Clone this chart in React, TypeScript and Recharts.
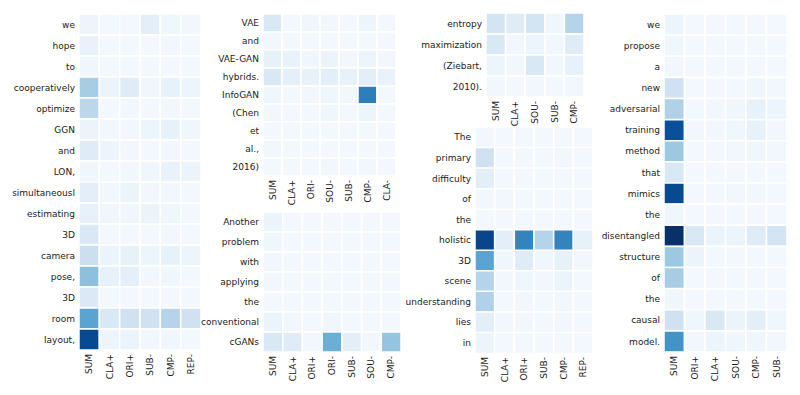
import React from "react";
import { BarChart, Bar, XAxis, YAxis, Cell } from "recharts";

// Panel 1
const words1 = ["we", "hope", "to", "cooperatively", "optimize", "GGN", "and", "LON,", "simultaneousl", "estimating", "3D", "camera", "pose,", "3D", "room", "layout,"];
const cols1 = ["SUM", "CLA+", "ORI+", "SUB-", "CMP-", "REP-"];
const vals1 = [
  [0.05, 0.02, 0.02, 0.1, 0.04, 0.03],
  [0.07, 0.02, 0.02, 0.02, 0.03, 0.02],
  [0.04, 0.02, 0.02, 0.02, 0.02, 0.02],
  [0.35, 0.06, 0.12, 0.04, 0.08, 0.05],
  [0.28, 0.02, 0.03, 0.02, 0.03, 0.02],
  [0.06, 0.03, 0.03, 0.05, 0.08, 0.04],
  [0.12, 0.05, 0.03, 0.02, 0.03, 0.02],
  [0.04, 0.02, 0.03, 0.04, 0.07, 0.06],
  [0.1, 0.03, 0.06, 0.03, 0.03, 0.02],
  [0.08, 0.04, 0.04, 0.06, 0.04, 0.02],
  [0.15, 0.02, 0.02, 0.02, 0.03, 0.02],
  [0.22, 0.06, 0.08, 0.05, 0.08, 0.05],
  [0.42, 0.08, 0.09, 0.03, 0.04, 0.02],
  [0.14, 0.02, 0.02, 0.02, 0.02, 0.02],
  [0.55, 0.15, 0.2, 0.2, 0.3, 0.2],
  [0.9, 0.05, 0.06, 0.03, 0.04, 0.02],
];

// Panel 2, top
const words2a = ["VAE", "and", "VAE-GAN", "hybrids.", "InfoGAN", "(Chen", "et", "al.,", "2016)"];
const cols2a = ["SUM", "CLA+", "ORI-", "SOU-", "SUB-", "CMP-", "CLA-"];
const vals2a = [
  [0.15, 0.02, 0.04, 0.03, 0.02, 0.05, 0.02],
  [0.03, 0.02, 0.02, 0.02, 0.02, 0.02, 0.02],
  [0.08, 0.07, 0.04, 0.06, 0.03, 0.05, 0.03],
  [0.15, 0.09, 0.08, 0.1, 0.08, 0.1, 0.07],
  [0.04, 0.02, 0.03, 0.04, 0.03, 0.7, 0.02],
  [0.03, 0.02, 0.02, 0.04, 0.02, 0.05, 0.02],
  [0.02, 0.02, 0.02, 0.02, 0.02, 0.02, 0.02],
  [0.03, 0.02, 0.02, 0.02, 0.02, 0.02, 0.02],
  [0.02, 0.02, 0.02, 0.03, 0.02, 0.03, 0.02],
];

// Panel 2, bottom
const words2b = ["Another", "problem", "with", "applying", "the", "conventional", "cGANs"];
const cols2b = ["SUM", "CLA+", "ORI+", "ORI-", "SUB-", "SOU-", "CMP-"];
const vals2b = [
  [0.06, 0.02, 0.02, 0.02, 0.02, 0.02, 0.02],
  [0.04, 0.02, 0.02, 0.02, 0.02, 0.02, 0.02],
  [0.03, 0.02, 0.02, 0.02, 0.02, 0.02, 0.02],
  [0.03, 0.02, 0.02, 0.02, 0.02, 0.02, 0.02],
  [0.02, 0.02, 0.02, 0.02, 0.02, 0.02, 0.02],
  [0.06, 0.03, 0.02, 0.04, 0.02, 0.02, 0.02],
  [0.15, 0.12, 0.03, 0.5, 0.1, 0.03, 0.4],
];

// Panel 3, top
const words3a = ["entropy", "maximization", "(Ziebart,", "2010)."];
const cols3a = ["SUM", "CLA+", "SOU-", "SUB-", "CMP-"];
const vals3a = [
  [0.18, 0.12, 0.18, 0.04, 0.3],
  [0.15, 0.03, 0.05, 0.03, 0.12],
  [0.05, 0.03, 0.15, 0.03, 0.08],
  [0.03, 0.02, 0.03, 0.02, 0.03],
];

// Panel 3, bottom
const words3b = ["The", "primary", "difficulty", "of", "the", "holistic", "3D", "scene", "understanding", "lies", "in"];
const cols3b = ["SUM", "CLA+", "ORI+", "SUB-", "CMP-", "REP-"];
const vals3b = [
  [0.03, 0.02, 0.02, 0.02, 0.02, 0.02],
  [0.2, 0.02, 0.02, 0.02, 0.03, 0.02],
  [0.1, 0.02, 0.02, 0.02, 0.02, 0.02],
  [0.03, 0.03, 0.02, 0.02, 0.02, 0.02],
  [0.02, 0.02, 0.02, 0.02, 0.02, 0.02],
  [0.92, 0.1, 0.68, 0.3, 0.68, 0.08],
  [0.55, 0.04, 0.12, 0.04, 0.08, 0.03],
  [0.3, 0.03, 0.04, 0.03, 0.06, 0.02],
  [0.32, 0.02, 0.03, 0.02, 0.03, 0.02],
  [0.1, 0.03, 0.03, 0.02, 0.03, 0.02],
  [0.05, 0.02, 0.02, 0.02, 0.02, 0.02],
];

// Panel 4
const words4 = ["we", "propose", "a", "new", "adversarial", "training", "method", "that", "mimics", "the", "disentangled", "structure", "of", "the", "causal", "model."];
const cols4 = ["SUM", "ORI+", "CLA+", "SOU-", "CMP-", "SUB-"];
const vals4 = [
  [0.05, 0.02, 0.02, 0.02, 0.02, 0.02],
  [0.04, 0.02, 0.02, 0.02, 0.02, 0.02],
  [0.03, 0.02, 0.02, 0.02, 0.02, 0.02],
  [0.2, 0.02, 0.02, 0.02, 0.04, 0.03],
  [0.32, 0.02, 0.03, 0.04, 0.08, 0.05],
  [0.88, 0.03, 0.03, 0.04, 0.08, 0.03],
  [0.38, 0.02, 0.02, 0.03, 0.04, 0.03],
  [0.15, 0.02, 0.02, 0.02, 0.02, 0.02],
  [0.9, 0.02, 0.02, 0.03, 0.03, 0.02],
  [0.04, 0.02, 0.02, 0.02, 0.02, 0.02],
  [1.0, 0.15, 0.06, 0.05, 0.12, 0.18],
  [0.38, 0.06, 0.02, 0.02, 0.02, 0.02],
  [0.35, 0.02, 0.02, 0.02, 0.02, 0.02],
  [0.04, 0.02, 0.02, 0.02, 0.02, 0.02],
  [0.2, 0.04, 0.15, 0.06, 0.1, 0.04],
  [0.62, 0.03, 0.05, 0.04, 0.04, 0.03],
];

// matplotlib "Blues"
const BLUES = ["#f7fbff", "#deebf7", "#c6dbef", "#9ecae1", "#6baed6", "#4292c6", "#2171b5", "#08519c", "#08306b"];

function hex(c: string) {
  return [1, 3, 5].map((i) => parseInt(c.slice(i, i + 2), 16));
}

function blues(v: number) {
  const t = Math.max(0, Math.min(1, v)) * (BLUES.length - 1);
  const i = Math.min(Math.floor(t), BLUES.length - 2);
  const f = t - i;
  const a = hex(BLUES[i]);
  const b = hex(BLUES[i + 1]);
  const m = a.map((x, k) => Math.round(x + (b[k] - x) * f));
  return `rgb(${m[0]},${m[1]},${m[2]})`;
}

const FONT = "'DejaVu Sans', sans-serif";

function ColTick(props: any) {
  const { x, y, payload, cols } = props;
  const name = cols[Math.floor(payload.value)];
  return (
    <text
      transform={`translate(${x + 3},${y}) rotate(-90)`}
      textAnchor="end"
      fontSize={9}
      fontFamily={FONT}
      fill="#1a1a1a"
    >
      {name}
    </text>
  );
}

function RowTick(props: any) {
  const { y, payload, words, right } = props;
  return (
    <text x={right} y={y} dy="0.35em" textAnchor="end" fontSize={9} fontFamily={FONT} fill="#1a1a1a">
      {words[Number(payload.value)]}
    </text>
  );
}

type PanelProps = {
  left: number;
  top: number;
  plotW: number;
  plotH: number;
  words: string[];
  cols: string[];
  vals: number[][];
};

// room for the row labels left of each grid
const Y_WIDTH = 90;

function Heatmap({ left, top, plotW, plotH, words, cols, vals }: PanelProps) {
  const data = words.map((w, i) => {
    const d: any = { row: String(i) };
    cols.forEach((c, j) => (d["c" + j] = 1));
    return d;
  });
  return (
    <div style={{ position: "absolute", left: left - Y_WIDTH, top }}>
      <BarChart
        width={Y_WIDTH + plotW}
        height={plotH + 40}
        data={data}
        layout="vertical"
        margin={{ top: 0, right: 0, bottom: 0, left: 0 }}
        barCategoryGap={0}
      >
        <XAxis
          type="number"
          domain={[0, cols.length]}
          ticks={cols.map((_, j) => j + 0.5)}
          interval={0}
          height={40}
          axisLine={false}
          tickLine={false}
          tickSize={2}
          tickMargin={2}
          tick={<ColTick cols={cols} />}
        />
        <YAxis
          type="category"
          dataKey="row"
          width={Y_WIDTH}
          interval={0}
          axisLine={false}
          tickLine={false}
          tick={<RowTick words={words} right={Y_WIDTH - 4} />}
        />
        {cols.map((c, j) => (
          <Bar key={c} dataKey={"c" + j} stackId="a" isAnimationActive={false} stroke="#fff" strokeWidth={1.5}>
            {words.map((w, i) => (
              <Cell key={i} fill={blues(vals[i][j])} />
            ))}
          </Bar>
        ))}
      </BarChart>
    </div>
  );
}

export default function App() {
  return (
    <div style={{ position: "absolute", left: 0, top: 0, width: 800, height: 395, background: "#fff", overflow: "hidden" }}>
      <Heatmap left={79} top={14} plotW={122} plotH={336} words={words1} cols={cols1} vals={vals1} />
      <Heatmap left={263} top={14} plotW={133} plotH={162} words={words2a} cols={cols2a} vals={vals2a} />
      <Heatmap left={263} top={212} plotW={138} plotH={140} words={words2b} cols={cols2b} vals={vals2b} />
      <Heatmap left={486} top={13} plotW={98} plotH={84} words={words3a} cols={cols3a} vals={vals3a} />
      <Heatmap left={475} top={127} plotW={118} plotH={226} words={words3b} cols={cols3b} vals={vals3b} />
      <Heatmap left={664} top={14} plotW={123} plotH={338} words={words4} cols={cols4} vals={vals4} />
    </div>
  );
}
